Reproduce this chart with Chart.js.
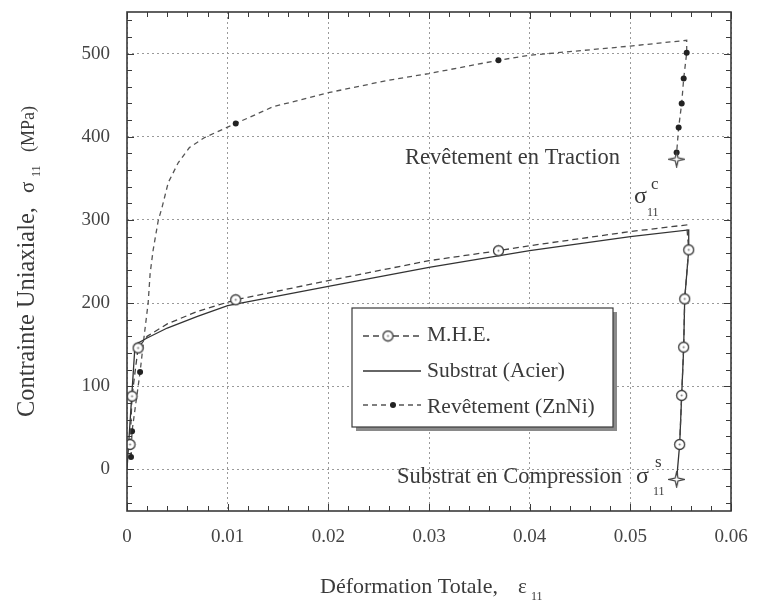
<!DOCTYPE html>
<html>
<head>
<meta charset="utf-8">
<script src="https://cdn.jsdelivr.net/npm/chart.js@4.4.1/dist/chart.umd.min.js"></script>
<style>
  html, body { margin: 0; padding: 0; background: #fff; }
  #wrap { width: 757px; height: 601px; }
</style>
</head>
<body>
<div id="wrap"><canvas id="chart" width="757" height="601"></canvas></div>
<script>
// ε11 (strain) / σ11 (MPa)
// marks: 'o' open circle, '.' filled dot, '*' star, '' none
const mheX = [0.0003, 0.0005, 0.0011, 0.002, 0.004, 0.007, 0.0108, 0.02, 0.03, 0.0369, 0.04, 0.05, 0.0556, 0.0558, 0.0554, 0.0553, 0.0551, 0.0549];
const mheY = [30, 88, 146, 160, 175, 190, 204, 227, 251, 263, 269, 286, 294, 264, 205, 147, 89, 30];
const mheMarks = ['o', 'o', 'o', '', '', '', 'o', '', '', 'o', '', '', '', 'o', 'o', 'o', 'o', 'o'];

const subX = [0, 0.0008, 0.002, 0.004, 0.007, 0.01, 0.02, 0.03, 0.04, 0.05, 0.0558, 0.0558, 0.0554, 0.0553, 0.0551, 0.0549, 0.0546];
const subY = [0, 150, 158, 170, 184, 197, 220, 243, 263, 280, 288, 264, 205, 147, 89, 30, -12];
const subMarks = ['', '', '', '', '', '', '', '', '', '', '', '', '', '', '', '', '*'];

const znX = [0.0004, 0.0005, 0.0013, 0.0017, 0.0021, 0.0023, 0.0026, 0.0031, 0.0035, 0.0041, 0.0051, 0.0062, 0.0077, 0.0108, 0.0145, 0.02, 0.026, 0.03, 0.0369, 0.04, 0.05, 0.0556, 0.0556, 0.0553, 0.0551, 0.0548, 0.0546, 0.0546];
const znY = [15, 46, 117, 160, 200, 236, 264, 299, 316, 345, 369, 387, 399, 416, 436, 453, 468, 476, 492, 498, 509, 516, 501, 470, 440, 411, 381, 373];
const znMarks = ['.', '.', '.', '', '', '', '', '', '', '', '', '', '', '.', '', '', '', '', '.', '', '', '', '.', '.', '.', '.', '.', '*'];

const xMajor = [0, 0.01, 0.02, 0.03, 0.04, 0.05, 0.06];
const xTickLabels = ['0', '0.01', '0.02', '0.03', '0.04', '0.05', '0.06'];
const yMajor = [0, 100, 200, 300, 400, 500];
const yTickLabels = ['0', '100', '200', '300', '400', '500'];
// minor tick spacing on the axes
const xMinorStep = 0.002;
const yMinorStep = 20;

const serif = '"Liberation Serif", "DejaVu Serif", serif';
const ink = '#3a3a3a';

const toPoints = (xs, ys) => xs.map((x, i) => ({ x: x, y: ys[i] }));
const majorIndex = (list, v, eps) => list.findIndex(m => Math.abs(m - v) < eps);

// marker images
function makeCircle() {
  const c = document.createElement('canvas');
  c.width = 13; c.height = 13;
  const g = c.getContext('2d');
  g.beginPath(); g.arc(6.5, 6.5, 5, 0, Math.PI * 2);
  g.fillStyle = '#fff'; g.fill();
  g.lineWidth = 1.3; g.strokeStyle = ink; g.stroke();
  g.beginPath(); g.arc(6.5, 6.5, 1, 0, Math.PI * 2);
  g.fillStyle = '#777'; g.fill();
  return c;
}
function makeStar() {
  const c = document.createElement('canvas');
  c.width = 17; c.height = 17;
  const g = c.getContext('2d');
  const cx = 8.5, cy = 8.5, R = 7.5, r = 2;
  g.beginPath();
  for (let i = 0; i < 8; i++) {
    const a = -Math.PI / 2 + i * Math.PI / 4;
    const rad = i % 2 === 0 ? R : r;
    const px = cx + rad * Math.cos(a), py = cy + rad * Math.sin(a);
    i === 0 ? g.moveTo(px, py) : g.lineTo(px, py);
  }
  g.closePath();
  g.fillStyle = '#fff'; g.fill();
  g.lineWidth = 1.2; g.strokeStyle = ink; g.stroke();
  return c;
}
const circleImg = makeCircle();
const starImg = makeStar();

const styleFor = marks => ctx => {
  const m = marks[ctx.dataIndex];
  if (m === 'o') return circleImg;
  if (m === '*') return starImg;
  return 'circle';
};
const radiusFor = (marks, r) => ctx => {
  const m = marks[ctx.dataIndex];
  return m ? (m === '.' ? r : 6) : 0;
};

// tick list: every minor step inside [min, max]
function tickValues(min, max, step) {
  const out = [];
  for (let v = Math.ceil(min / step - 1e-9) * step; v <= max + 1e-9; v += step) {
    out.push({ value: Math.round(v / step) * step });
  }
  return out;
}

function fitFont(ctx, text, width, base) {
  ctx.font = base + 'px ' + serif;
  return base * width / ctx.measureText(text).width;
}
function put(ctx, text, x, y, size) {
  ctx.font = size + 'px ' + serif;
  ctx.fillText(text, x, y);
}

const framePlugin = {
  id: 'frame',
  afterDatasetsDraw(chart) {
    const { ctx, chartArea: a, scales } = chart;
    ctx.save();
    ctx.strokeStyle = ink;
    ctx.lineWidth = 1;
    // inward tick marks on all four sides
    scales.x.ticks.forEach(t => {
      const px = Math.round(scales.x.getPixelForValue(t.value)) + 0.5;
      const len = majorIndex(xMajor, t.value, 1e-7) >= 0 ? 7 : 5;
      ctx.beginPath();
      ctx.moveTo(px, a.bottom); ctx.lineTo(px, a.bottom - len);
      ctx.moveTo(px, a.top); ctx.lineTo(px, a.top + len);
      ctx.stroke();
    });
    scales.y.ticks.forEach(t => {
      const py = Math.round(scales.y.getPixelForValue(t.value)) + 0.5;
      const len = majorIndex(yMajor, t.value, 1e-6) >= 0 ? 7 : 5;
      ctx.beginPath();
      ctx.moveTo(a.left, py); ctx.lineTo(a.left + len, py);
      ctx.moveTo(a.right, py); ctx.lineTo(a.right - len, py);
      ctx.stroke();
    });
    ctx.lineWidth = 1.6;
    ctx.strokeRect(a.left, a.top, a.right - a.left, a.bottom - a.top);

    // legend box with drop shadow
    const L = 352, T = 308, R = 613, B = 427;
    ctx.fillStyle = '#8a8a8a';
    ctx.fillRect(L + 4, B, R - L, 4);
    ctx.fillRect(R, T + 4, 4, B - T);
    ctx.fillStyle = '#fff';
    ctx.fillRect(L, T, R - L, B - T);
    ctx.lineWidth = 1.2;
    ctx.strokeStyle = ink;
    ctx.strokeRect(L, T, R - L, B - T);

    const rows = [
      { y: 336, base: 341, text: 'M.H.E.', ds: 0, mark: circleImg, mx: 388 },
      { y: 371, base: 377, text: 'Substrat (Acier)', ds: 1, mark: null },
      { y: 405, base: 413, text: 'Revêtement (ZnNi)', ds: 2, mark: 'dot', mx: 393 }
    ];
    const size = fitFont(ctx, 'Substrat (Acier)', 138, 20);
    rows.forEach(r => {
      const d = chart.data.datasets[r.ds];
      ctx.strokeStyle = d.borderColor;
      ctx.lineWidth = d.borderWidth;
      ctx.setLineDash(d.borderDash || []);
      ctx.beginPath(); ctx.moveTo(363, r.y); ctx.lineTo(421, r.y); ctx.stroke();
      ctx.setLineDash([]);
      if (r.mark === 'dot') {
        ctx.fillStyle = '#222';
        ctx.beginPath(); ctx.arc(r.mx, r.y, 3, 0, Math.PI * 2); ctx.fill();
      } else if (r.mark) {
        ctx.drawImage(r.mark, r.mx - r.mark.width / 2, r.y - r.mark.height / 2);
      }
      ctx.fillStyle = ink;
      put(ctx, r.text, 427, r.base, size);
    });

    // annotations
    ctx.fillStyle = ink;
    put(ctx, 'Revêtement en Traction', 405, 164, fitFont(ctx, 'Revêtement en Traction', 215, 20));
    put(ctx, 'Substrat en Compression', 397, 483, fitFont(ctx, 'Substrat en Compression', 225, 20));
    put(ctx, 'σ', 634, 203, 24);
    put(ctx, 'c', 651, 189, 17);
    put(ctx, '11', 647, 216, 12);
    put(ctx, 'σ', 636, 483, 24);
    put(ctx, 's', 655, 467, 17);
    put(ctx, '11', 653, 495, 12);

    // axis titles
    put(ctx, 'Déformation Totale,', 320, 593, fitFont(ctx, 'Déformation Totale,', 178, 20));
    put(ctx, 'ε', 518, 593, 21);
    put(ctx, '11', 531, 600, 12);

    ctx.translate(34, 417);
    ctx.rotate(-Math.PI / 2);
    put(ctx, 'Contrainte Uniaxiale,', 0, 0, fitFont(ctx, 'Contrainte Uniaxiale,', 210, 20));
    put(ctx, 'σ', 224, 0, 21);
    put(ctx, '11', 240, 6, 12);
    put(ctx, '(MPa)', 265, 0, fitFont(ctx, '(MPa)', 46, 20));
    ctx.restore();
  }
};

const lineColor = '#444';

new Chart(document.getElementById('chart'), {
  type: 'scatter',
  data: {
    datasets: [
      {
        label: 'M.H.E.',
        data: toPoints(mheX, mheY),
        showLine: true,
        borderColor: lineColor,
        borderWidth: 1.3,
        borderDash: [6, 4],
        pointStyle: styleFor(mheMarks),
        pointRadius: radiusFor(mheMarks, 3),
        pointBackgroundColor: '#fff',
        pointBorderColor: ink
      },
      {
        label: 'Substrat (Acier)',
        data: toPoints(subX, subY),
        showLine: true,
        borderColor: '#333',
        borderWidth: 1.3,
        pointStyle: styleFor(subMarks),
        pointRadius: radiusFor(subMarks, 3)
      },
      {
        label: 'Revêtement (ZnNi)',
        data: toPoints(znX, znY),
        showLine: true,
        borderColor: '#555',
        borderWidth: 1.3,
        borderDash: [5, 4],
        pointStyle: styleFor(znMarks),
        pointRadius: radiusFor(znMarks, 3),
        pointBackgroundColor: '#222',
        pointBorderColor: '#222',
        pointBorderWidth: 0
      }
    ]
  },
  options: {
    responsive: false,
    animation: false,
    events: [],
    layout: { padding: { top: 12, right: 26, left: 0, bottom: 0 } },
    plugins: { legend: { display: false }, tooltip: { enabled: false } },
    scales: {
      x: {
        type: 'linear',
        min: 0,
        max: 0.06,
        afterFit: s => { s.height = 90; s.paddingLeft = 0; s.paddingRight = 0; },
        afterBuildTicks: s => { s.ticks = tickValues(s.min, s.max, xMinorStep); },
        border: { display: false, dash: [2, 3] },
        grid: {
          drawTicks: false,
          lineWidth: 1,
          color: c => c.tick && majorIndex(xMajor, c.tick.value, 1e-7) >= 0 ? '#9a9a9a' : 'rgba(0,0,0,0)'
        },
        ticks: {
          autoSkip: false,
          maxRotation: 0,
          padding: 15,
          color: '#444',
          font: { family: serif, size: 19 },
          callback: v => {
            const i = majorIndex(xMajor, v, 1e-7);
            return i >= 0 ? xTickLabels[i] : '';
          }
        }
      },
      y: {
        type: 'linear',
        min: -50,
        max: 550,
        afterFit: s => { s.width = 127; s.paddingTop = 0; s.paddingBottom = 0; },
        afterBuildTicks: s => { s.ticks = tickValues(s.min, s.max, yMinorStep); },
        border: { display: false, dash: [2, 3] },
        grid: {
          drawTicks: false,
          lineWidth: 1,
          color: c => c.tick && majorIndex(yMajor, c.tick.value, 1e-6) >= 0 ? '#9a9a9a' : 'rgba(0,0,0,0)'
        },
        ticks: {
          autoSkip: false,
          padding: 17,
          color: '#444',
          font: { family: serif, size: 19 },
          callback: v => {
            const i = majorIndex(yMajor, v, 1e-6);
            return i >= 0 ? yTickLabels[i] : '';
          }
        }
      }
    }
  },
  plugins: [framePlugin]
});
</script>
</body>
</html>
